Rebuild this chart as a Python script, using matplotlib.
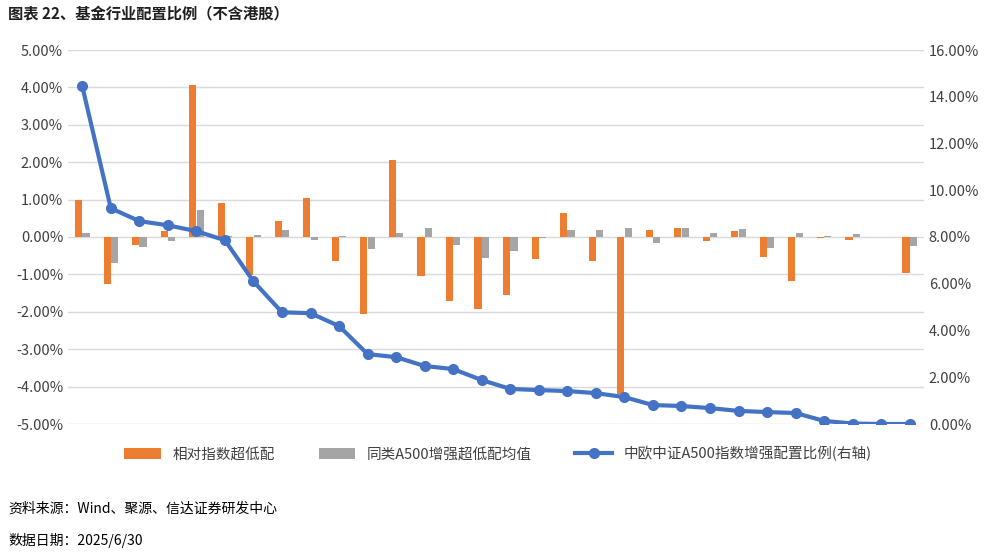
import matplotlib.pyplot as plt
import numpy as np
from matplotlib.ticker import FuncFormatter

plt.rcParams['font.family'] = ['Noto Sans CJK SC', 'DejaVu Sans']

# 相对指数超低配 (%)
rel_over = [0.99, -1.25, -0.22, 0.15, 4.07, 0.90, -1.02, 0.43, 1.03, -0.65,
            -2.07, 2.05, -1.05, -1.72, -1.93, -1.56, -0.60, 0.63, -0.64, -4.20,
            0.20, 0.25, -0.10, 0.17, -0.53, -1.18, -0.04, -0.07, 0.00, -0.95]
# 同类A500增强超低配均值 (%)
peer_avg = [0.10, -0.70, -0.27, -0.10, 0.72, 0.03, 0.05, 0.20, -0.07, 0.02,
            -0.33, 0.10, 0.23, -0.22, -0.55, -0.38, -0.03, 0.20, 0.20, 0.25,
            -0.15, 0.25, 0.12, 0.22, -0.30, 0.12, 0.04, 0.08, 0.01, -0.25]
# 中欧中证A500指数增强配置比例 (%)
fund_weight = [14.45, 9.23, 8.68, 8.50, 8.25, 7.86, 6.10, 4.78, 4.74, 4.19,
               2.99, 2.86, 2.48, 2.35, 1.88, 1.50, 1.45, 1.41, 1.32, 1.15,
               0.81, 0.77, 0.68, 0.56, 0.51, 0.47, 0.13, 0.02, 0.00, 0.00]

x = np.arange(len(rel_over))
orange = '#ED7D31'
gray = '#A5A5A5'
blue = '#4472C4'

fig = plt.figure(figsize=(9.96, 5.53), dpi=100)
ax = fig.add_axes([68 / 996, 1 - 424 / 553, (924 - 68) / 996, 374 / 553])
ax.bar(x - 0.13, rel_over, width=0.25, color=orange, label='相对指数超低配', zorder=2)
ax.bar(x + 0.13, peer_avg, width=0.25, color=gray, label='同类A500增强超低配均值', zorder=2)
ax.set_ylim(-5, 5)
ax.set_yticks(np.arange(-5, 5.1, 1))
ax.yaxis.set_major_formatter(FuncFormatter(lambda v, p: f'{v:.2f}%'))
ax.set_xlim(-0.5, len(x) - 0.5)
ax.set_xticks([])
ax.grid(axis='y', color='#D9D9D9', linewidth=1, zorder=0)
for s in ax.spines.values():
    s.set_visible(False)
ax.tick_params(axis='y', length=0, labelsize=10.5, colors='#404040')

ax2 = ax.twinx()
ax2.plot(x, fund_weight, color=blue, linewidth=3, marker='o', markersize=7,
         label='中欧中证A500指数增强配置比例(右轴)', zorder=3)
ax2.set_ylim(0, 16)
ax2.set_yticks(np.arange(0, 16.1, 2))
ax2.yaxis.set_major_formatter(FuncFormatter(lambda v, p: f'{v:.2f}%'))
for s in ax2.spines.values():
    s.set_visible(False)
ax2.tick_params(axis='y', length=0, labelsize=10.5, colors='#404040')

h1, l1 = ax.get_legend_handles_labels()
h2, l2 = ax2.get_legend_handles_labels()
fig.legend(h1 + h2, l1 + l2, loc='center', bbox_to_anchor=(0.5, 1 - 454 / 553),
           ncol=3, frameon=False, fontsize=10.5, handlelength=2.5, columnspacing=3,
           labelcolor='#404040')

fig.text(8 / 996, 1 - 14 / 553, '图表 22、基金行业配置比例（不含港股）', fontsize=11,
         fontweight='bold', va='center', color='#1F1F1F')
fig.text(8 / 996, 1 - 509 / 553, '资料来源：Wind、聚源、信达证券研发中心', fontsize=10,
         style='italic', va='center')
fig.text(8 / 996, 1 - 541 / 553, '数据日期：2025/6/30', fontsize=10,
         style='italic', va='center')

fig.savefig('out.png', dpi=100)
